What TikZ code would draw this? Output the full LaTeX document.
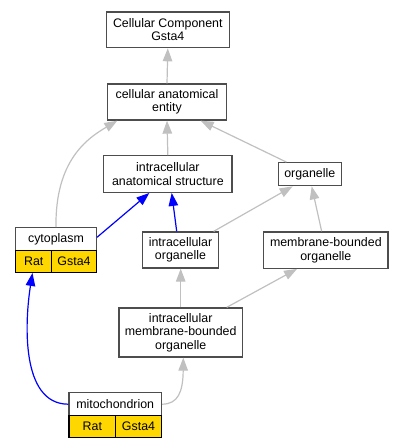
\documentclass[tikz,border=0pt]{standalone}
\usepackage{fontspec}
\setmainfont{Liberation Sans}
\usetikzlibrary{arrows.meta,calc}
\definecolor{boxgray}{HTML}{4D4D4D}
\definecolor{edgegray}{HTML}{C0C0C0}
\definecolor{gold}{HTML}{FFD700}
\tikzset{
  box/.style={draw=boxgray, line width=1.3pt, fill=white, inner sep=0pt, align=center,
    font=\fontsize{12.4}{13.4}\selectfont},
  cell/.style={draw=black, line width=1.3pt, fill=gold, inner sep=0pt,
    font=\fontsize{12.4}{13.4}\selectfont},
  gedge/.style={draw=edgegray, line width=1.2pt, -{Triangle[length=13pt,width=9.5pt]}},
  bedge/.style={draw=blue, line width=1.2pt, -{Triangle[length=13pt,width=9.5pt]}},
}
\begin{document}
\begin{tikzpicture}[x=1pt,y=-1pt]
\useasboundingbox (0,0) rectangle (403,448);
% nodes
\node[box, minimum width=123pt, minimum height=35.7pt] (cc) at (167.8,29.8) {Cellular Component\\Gsta4};
\node[box, minimum width=119.4pt, minimum height=36pt] (cae) at (167,102) {cellular anatomical\\entity};
\node[box, minimum width=128.3pt, minimum height=36.6pt] (ias) at (167.85,174) {intracellular\\anatomical structure};
\node[box, minimum width=63pt, minimum height=23pt] (org) at (309.8,174.2) {organelle};
\node[box, minimum width=80.6pt, minimum height=23pt] (cyto) at (56,239.2) {cytoplasm};
\node[cell, minimum width=36pt, minimum height=21.6pt] (cytorat) at (33.7,261.5) {Rat};
\node[cell, minimum width=44.6pt, minimum height=21.6pt] (cytogsta) at (74,261.5) {Gsta4};
\node[box, minimum width=75.6pt, minimum height=36pt] (io) at (180.5,250) {intracellular\\organelle};
\node[box, minimum width=124.3pt, minimum height=36.3pt] (mbo) at (325.85,250.1) {membrane-bounded\\organelle};
\node[box, minimum width=123.3pt, minimum height=49pt] (imbo) at (180.7,332.5) {intracellular\\membrane-bounded\\organelle};
\node[box, minimum width=92.3pt, minimum height=23pt] (mito) at (115.2,404.2) {mitochondrion};
\node[cell, minimum width=46.7pt, minimum height=21.6pt] (mitorat) at (92.35,426.5) {Rat};
\node[cell, minimum width=45.6pt, minimum height=21.6pt] (mitogsta) at (138.5,426.5) {Gsta4};
% edges
\draw[gedge] (cae.north) -- (cc.south);
\draw[gedge] (ias.north) -- (cae.south);
\draw[gedge] ($(org.north west)+(8.7,0)$) -- ($(cae.south east)+(-26.7,0)$);
\draw[gedge] (cyto.north) .. controls (55,160) and (88,138) .. ($(cae.south west)+(10.7,0)$);
\draw[bedge] ($(cyto.north east)+(0,10.3)$) -- ($(ias.south west)+(46.3,0)$);
\draw[bedge] ($(io.north)+(-3.8,0)$) -- ($(ias.south)+(3.85,0)$);
\draw[gedge] ($(io.north east)+(-5.3,0)$) -- ($(org.south west)+(15,0)$);
\draw[gedge] ($(mbo.north)+(-4.2,0)$) -- ($(org.south)+(1.9,0)$);
\draw[gedge] (imbo.north) -- (imbo.north |- io.south);
\draw[gedge] ($(imbo.north east)+(-16.3,0)$) -- ($(mbo.south west)+(34,0)$);
\draw[gedge] (mito.east) .. controls (178,404.2) and (183,392) .. ($(imbo.south)+(2.6,0)$);
\draw[bedge] (mito.west) .. controls (20,404.2) and (25,320) .. ($(cytorat.south)+(-1.2,0)$);
\end{tikzpicture}
\end{document}
